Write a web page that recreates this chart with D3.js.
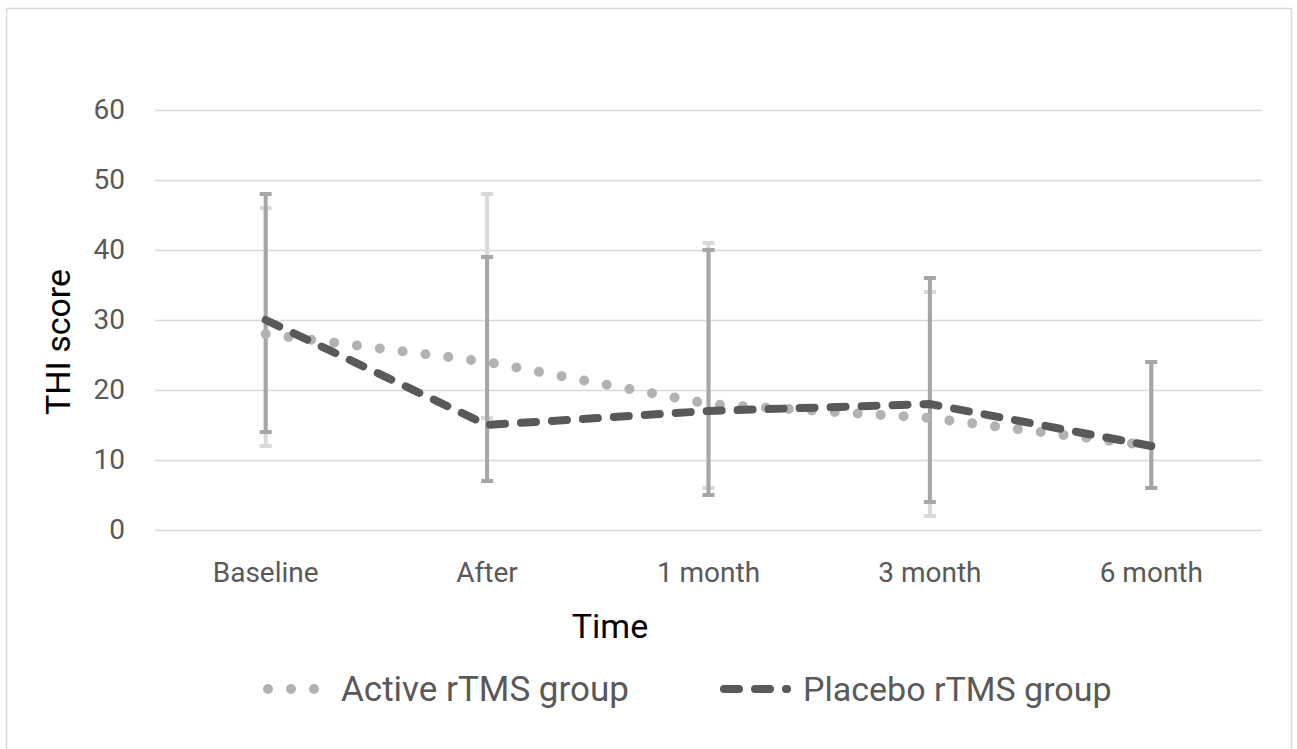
<!DOCTYPE html>
<html>
<head>
<meta charset="utf-8">
<script src="https://cdn.jsdelivr.net/npm/d3@7"></script>
<style>
  body { margin: 0; background: #fff; }
  text { font-family: "Roboto", "DejaVu Sans", sans-serif; }
</style>
</head>
<body>
<div id="chart"></div>
<script>
/* data */
const categories = ["Baseline", "After", "1 month", "3 month", "6 month"];
const activeMean = [28, 24, 18, 16, 12];
const placeboMean = [30, 15, 17, 18, 12];
const activeUpper = [46, 48, 41, 34, 24];
const activeLower = [12, 16, 6, 2, 6];
const placeboUpper = [48, 39, 40, 36, 24];
const placeboLower = [14, 7, 5, 4, 6];
const yTicks = [0, 10, 20, 30, 40, 50, 60];

const width = 1297, height = 749;
const plotLeft = 155, plotRight = 1262, plotTop = 110, plotBottom = 530;

const svg = d3.select("#chart").append("svg")
  .attr("width", width)
  .attr("height", height);

svg.append("rect")
  .attr("width", width).attr("height", height)
  .attr("fill", "#fff");

// outer frame
svg.append("rect")
  .attr("x", 6.5).attr("y", 8.5)
  .attr("width", 1285).attr("height", 780)
  .attr("fill", "none")
  .attr("stroke", "#d9d9d9")
  .attr("stroke-width", 1.5);

const x = d3.scaleBand().domain(categories).range([plotLeft, plotRight]).padding(0);
const y = d3.scaleLinear().domain([0, 60]).range([plotBottom, plotTop]);
const cx = d => x(d) + x.bandwidth() / 2;

// gridlines + y labels
const yAxis = d3.axisLeft(y).tickValues(yTicks).tickSize(-(plotRight - plotLeft)).tickPadding(30);
const gy = svg.append("g").attr("transform", `translate(${plotLeft},0)`).call(yAxis);
gy.select(".domain").remove();
gy.selectAll(".tick line").attr("stroke", "#d9d9d9").attr("stroke-width", 1.5);
gy.selectAll(".tick text")
  .attr("fill", "#595959")
  .style("font-size", "28px");

// category labels
const xAxis = d3.axisBottom(x).tickSize(0).tickPadding(32);
const gx = svg.append("g").attr("transform", `translate(0,${plotBottom})`).call(xAxis);
gx.select(".domain").remove();
gx.selectAll(".tick text")
  .attr("fill", "#595959")
  .style("font-size", "28px");

// axis titles
svg.append("text")
  .attr("x", 610).attr("y", 638)
  .attr("text-anchor", "middle")
  .attr("fill", "#000")
  .style("font-size", "34px")
  .text("Time");

svg.append("text")
  .attr("transform", "translate(70,342) rotate(-90)")
  .attr("text-anchor", "middle")
  .attr("fill", "#000")
  .style("font-size", "34px")
  .text("THI score");

// error bars
function errorBars(upper, lower, color) {
  const g = svg.append("g").attr("stroke", color).attr("stroke-width", 4);
  categories.forEach((c, i) => {
    g.append("line")
      .attr("x1", cx(c)).attr("x2", cx(c))
      .attr("y1", y(upper[i])).attr("y2", y(lower[i]));
    [upper[i], lower[i]].forEach(v => {
      g.append("line")
        .attr("x1", cx(c) - 6).attr("x2", cx(c) + 6)
        .attr("y1", y(v)).attr("y2", y(v));
    });
  });
}
errorBars(activeUpper, activeLower, "#d9d9d9");
errorBars(placeboUpper, placeboLower, "#a6a6a6");

const line = d3.line().x((d, i) => cx(categories[i])).y(d => y(d));

svg.append("path")
  .datum(activeMean)
  .attr("d", line)
  .attr("fill", "none")
  .attr("stroke", "#b2b2b2")
  .attr("stroke-width", 10)
  .attr("stroke-linecap", "round")
  .attr("stroke-dasharray", "0 23");

svg.append("path")
  .datum(placeboMean)
  .attr("d", line)
  .attr("fill", "none")
  .attr("stroke", "#595959")
  .attr("stroke-width", 8)
  .attr("stroke-linecap", "round")
  .attr("stroke-dasharray", "15 16");

// legend
const legendY = 689;
svg.append("line")
  .attr("x1", 268).attr("x2", 315)
  .attr("y1", legendY).attr("y2", legendY)
  .attr("stroke", "#b2b2b2").attr("stroke-width", 10)
  .attr("stroke-linecap", "round").attr("stroke-dasharray", "0 23");
svg.append("text")
  .attr("x", 341).attr("y", legendY + 12)
  .attr("fill", "#595959")
  .style("font-size", "35px")
  .text("Active rTMS group");

svg.append("line")
  .attr("x1", 724).attr("x2", 787)
  .attr("y1", legendY).attr("y2", legendY)
  .attr("stroke", "#595959").attr("stroke-width", 8)
  .attr("stroke-linecap", "round").attr("stroke-dasharray", "15 16");
svg.append("text")
  .attr("x", 803).attr("y", legendY + 12)
  .attr("fill", "#595959")
  .style("font-size", "34px")
  .text("Placebo rTMS group");
</script>
</body>
</html>
